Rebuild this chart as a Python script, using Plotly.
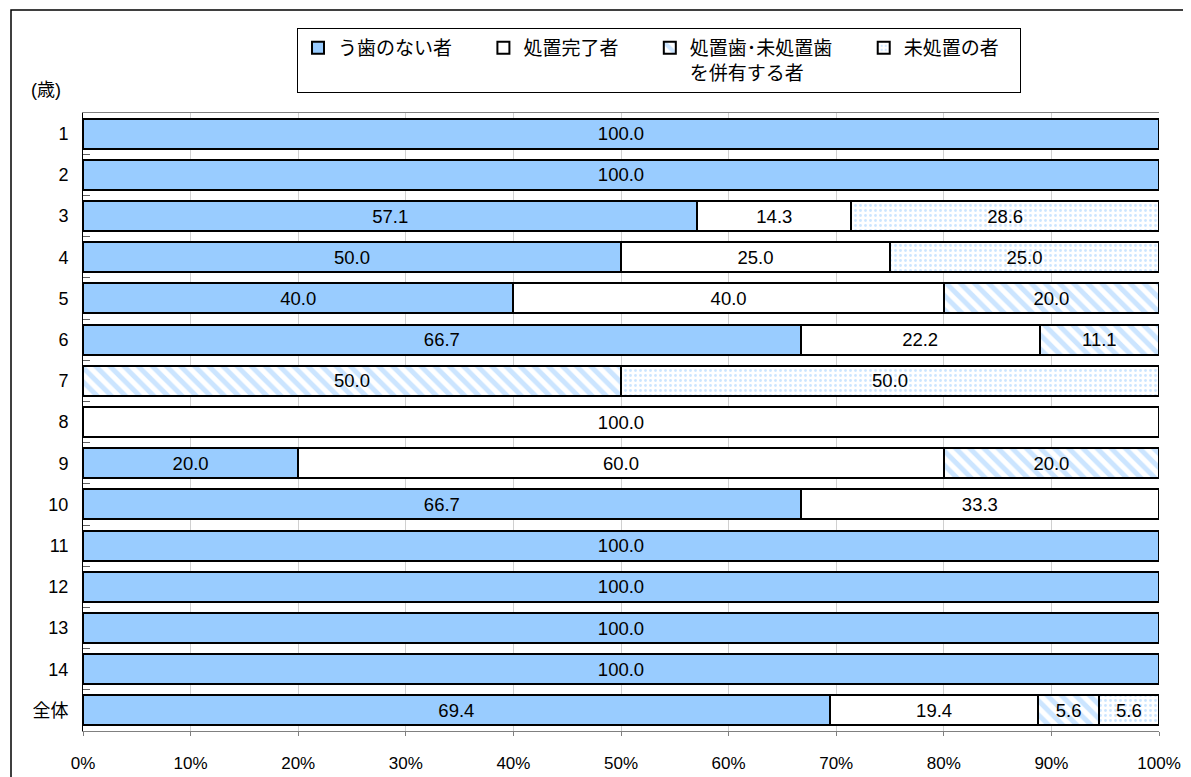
import plotly.graph_objects as go

categories = ["1", "2", "3", "4", "5", "6", "7", "8", "9", "10", "11", "12", "13", "14", "全体"]
series_names = ["う歯のない者", "処置完了者", "処置歯･未処置歯<br>を併有する者", "未処置の者"]
no_caries = [100.0, 100.0, 57.1, 50.0, 40.0, 66.7, 0.0, 0.0, 20.0, 66.7, 100.0, 100.0, 100.0, 100.0, 69.4]
treated = [0.0, 0.0, 14.3, 25.0, 40.0, 22.2, 0.0, 100.0, 60.0, 33.3, 0.0, 0.0, 0.0, 0.0, 19.4]
mixed = [0.0, 0.0, 0.0, 0.0, 20.0, 11.1, 50.0, 0.0, 20.0, 0.0, 0.0, 0.0, 0.0, 0.0, 5.6]
untreated = [0.0, 0.0, 28.6, 25.0, 0.0, 0.0, 50.0, 0.0, 0.0, 0.0, 0.0, 0.0, 0.0, 0.0, 5.6]
x_tickvals = [0, 10, 20, 30, 40, 50, 60, 70, 80, 90, 100]
x_ticktext = ["0%", "10%", "20%", "30%", "40%", "50%", "60%", "70%", "80%", "90%", "100%"]

BLUE = "#99CCFF"
FONT = "Liberation Sans, Arial, Noto Sans CJK JP, sans-serif"
OFF = 8  # default page body margin
W, H = 1191 - OFF, 777 - OFF
PL, PR, PT, PB = 83, 1159, 113, 731  # plot area in window pixels
L, R, T, B = PL - OFF, W - (PR - OFF), PT - OFF, H - (PB - OFF)

PAD = "\u00a0" * 5
legend_names = [series_names[0] + PAD, series_names[1] + PAD,
                series_names[2].replace("<br>", PAD + "<br>"), series_names[3] + "\u00a0" * 3]

styles = [
    dict(color=BLUE),
    dict(color="white"),
    dict(color="white", pattern=dict(shape="\\", fgcolor=BLUE, bgcolor="white", size=10, solidity=0.5)),
    dict(color="white", pattern=dict(shape=".", fgcolor=BLUE, bgcolor="white", size=5, solidity=0.25)),
]

fig = go.Figure()
for name, vals, st in zip(legend_names, [no_caries, treated, mixed, untreated], styles):
    fig.add_trace(go.Bar(
        y=categories, x=vals, name=name, orientation="h",
        marker=dict(line=dict(color="black", width=2), **st),
        text=[f"{v:.1f}" if v > 0 else "" for v in vals],
        textposition="inside", insidetextanchor="middle", textangle=0,
        textfont=dict(family=FONT, size=18.5, color="black"),
        constraintext="none",
    ))

pw = PR - PL
ph = PB - PT
def px_x(p):
    return (p - PL) / pw
def px_y(p):
    return (PB - p) / ph

fig.update_layout(
    width=W, height=H,
    margin=dict(l=L, r=R, t=T, b=B, autoexpand=False),
    barmode="stack", bargap=0.27,
    paper_bgcolor="white", plot_bgcolor="white",
    font=dict(family=FONT, size=16, color="black"),
    showlegend=True,
    legend=dict(
        orientation="h", x=px_x(297), y=px_y(28), xanchor="left", yanchor="top",
        bordercolor="black", borderwidth=1, bgcolor="white",
        font=dict(family=FONT, size=19, color="black"),
        valign="top", traceorder="normal",
    ),
    xaxis=dict(
        range=[0, 100], tickvals=x_tickvals, ticktext=x_ticktext,
        showgrid=True, gridcolor="#d0d0d0", gridwidth=1,
        ticks="outside", ticklen=4, tickcolor="#808080",
        showline=True, linecolor="#808080", linewidth=1, mirror=True,
        zeroline=False, tickfont=dict(size=17), ticklabelstandoff=13,
        automargin=False,
    ),
    yaxis=dict(
        categoryorder="array", categoryarray=categories, autorange="reversed",
        ticks="inside", tickson="boundaries", ticklen=7, tickcolor="#606060",
        showline=True, linecolor="black", linewidth=1,
        tickfont=dict(size=18), ticklabelstandoff=10,
        automargin=False,
    ),
    annotations=[
        dict(text="(歳)", xref="paper", yref="paper", x=px_x(46), y=px_y(90),
             showarrow=False, font=dict(size=18), xanchor="center", yanchor="middle"),
    ],
    shapes=[
        dict(type="rect", xref="paper", yref="paper",
             x0=px_x(11), y0=px_y(800), x1=px_x(1220), y1=px_y(10),
             line=dict(color="black", width=1.5), layer="below"),
    ],
)

fig.write_html("out.html")
